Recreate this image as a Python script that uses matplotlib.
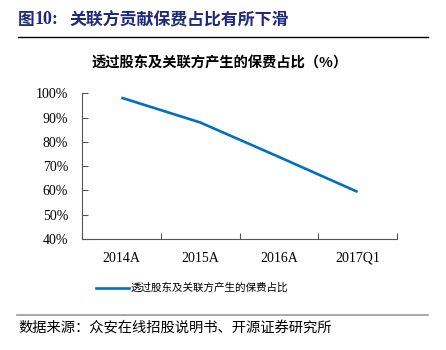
import numpy as np
from matplotlib import pyplot as plt
from matplotlib.lines import Line2D

plt.rcParams['font.family'] = ['Liberation Serif', 'Noto Sans CJK SC', 'DejaVu Sans']

categories = ['2014A', '2015A', '2016A', '2017Q1']
share = [98.2, 88.0, 73.8, 59.4]
yticks = [40, 50, 60, 70, 80, 90, 100]
series_name = '透过股东及关联方产生的保费占比'

cjk = ['Noto Sans CJK SC', 'DejaVu Sans']
blue = '#0070C0'

fig = plt.figure(figsize=(4.46, 3.5), dpi=100)
ax = fig.add_axes([82/446, 1-239/350, (397-82)/446, (239-93.3)/350])

x = np.arange(len(categories))
ax.plot(x, share, color=blue, lw=1.9, solid_capstyle='butt')

ax.set_xlim(-0.5, len(categories) - 0.5)
ax.set_ylim(40, 100)
ax.set_yticks(yticks)
ax.set_yticklabels([f'{v}%' for v in yticks], fontsize=10)

# boundary ticks + centred labels
ax.set_xticks(np.arange(len(categories) + 1) - 0.5)
ax.set_xticklabels([])
ax.set_xticks(x, minor=True)
ax.set_xticklabels(categories, minor=True, fontsize=10)
ax.tick_params(axis='x', which='minor', length=0, pad=9)
ax.tick_params(axis='both', which='major', direction='in', length=4, color='#555555', width=0.8)
ax.tick_params(axis='y', pad=10)

for s in ['top', 'right']:
    ax.spines[s].set_visible(False)
for s in ['left', 'bottom']:
    ax.spines[s].set_color('#555555')
    ax.spines[s].set_linewidth(0.8)

# titles
fig.text(18/446, 1-20/350, '图', family=cjk,
         fontsize=12, fontweight='bold', color='#1F2A7A', va='center', ha='left')
fig.text(35/446, 1-20/350, '10:', fontsize=13, fontweight='bold',
         color='#1F2A7A', va='center', ha='left')
fig.text(69/446, 1-20/350, '关联方贡献保费占比有所下滑', family=cjk,
         fontsize=12.2, fontweight='bold', color='#1F2A7A', va='center', ha='left')
fig.add_artist(Line2D([18/446, 428/446], [1-37/350, 1-37/350], color='black', lw=1.0))
fig.text(220/446, 1-63/350, '透过股东及关联方产生的保费占比（%）', family=cjk,
         fontsize=10.3, fontweight='bold', color='black', va='center', ha='center')

# legend
fig.add_artist(Line2D([96/446, 129/446], [1-288/350, 1-288/350], color=blue, lw=1.9))
fig.text(131/446, 1-288/350, series_name, family=cjk, fontsize=7.6, va='center', ha='left')

# source
fig.add_artist(Line2D([17/446, 428/446], [1-315/350, 1-315/350], color='#999999', lw=1.2))
fig.text(18/446, 1-328/350, '数据来源：众安在线招股说明书、开源证券研究所', family=cjk,
         fontsize=10.3, va='center', ha='left')

fig.savefig('out.png', dpi=100)
